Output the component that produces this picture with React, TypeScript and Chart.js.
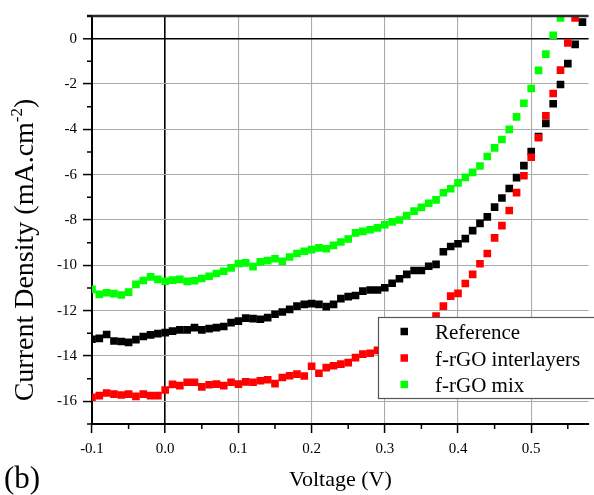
import React, { useEffect, useRef } from 'react';
import { Chart, registerables } from 'chart.js';

Chart.register(...registerables);

// ---- data ----
const voltage = [
  -0.10, -0.09, -0.08, -0.07, -0.06, -0.05, -0.04, -0.03, -0.02, -0.01,
  0.00, 0.01, 0.02, 0.03, 0.04, 0.05, 0.06, 0.07, 0.08, 0.09,
  0.10, 0.11, 0.12, 0.13, 0.14, 0.15, 0.16, 0.17, 0.18, 0.19,
  0.20, 0.21, 0.22, 0.23, 0.24, 0.25, 0.26, 0.27, 0.28, 0.29,
  0.30, 0.31, 0.32, 0.33, 0.34, 0.35, 0.36, 0.37, 0.38, 0.39,
  0.40, 0.41, 0.42, 0.43, 0.44, 0.45, 0.46, 0.47, 0.48, 0.49,
  0.50, 0.51, 0.52, 0.53, 0.54, 0.55, 0.56, 0.57,
];

const referenceJ = [
  -13.26, -13.22, -13.05, -13.34, -13.36, -13.40, -13.28, -13.14, -13.07, -13.01,
  -12.97, -12.90, -12.85, -12.85, -12.75, -12.85, -12.79, -12.75, -12.70, -12.53,
  -12.46, -12.33, -12.35, -12.38, -12.31, -12.16, -12.06, -11.94, -11.80, -11.72,
  -11.69, -11.72, -11.82, -11.72, -11.47, -11.38, -11.33, -11.14, -11.09, -11.09,
  -10.99, -10.79, -10.59, -10.40, -10.23, -10.23, -10.04, -9.96, -9.40, -9.17,
  -9.05, -8.82, -8.47, -8.15, -7.86, -7.43, -7.03, -6.61, -6.13, -5.60,
  -4.98, -4.32, -3.74, -2.87, -2.02, -1.10, -0.25, 0.73,
];

const interlayerJ = [
  -15.82, -15.75, -15.63, -15.68, -15.72, -15.68, -15.78, -15.68, -15.75, -15.75,
  -15.50, -15.25, -15.31, -15.16, -15.16, -15.36, -15.27, -15.24, -15.31, -15.16,
  -15.24, -15.14, -15.16, -15.09, -15.05, -15.22, -14.95, -14.87, -14.80, -14.88,
  -14.45, -14.76, -14.51, -14.43, -14.36, -14.29, -14.07, -13.92, -13.88, -13.75,
  -13.62, -13.50, -13.36, -13.20, -13.02, -12.82, -12.56, -12.24, -11.80, -11.36,
  -11.24, -10.80, -10.40, -9.93, -9.48, -8.79, -8.25, -7.58, -6.79, -6.05,
  -5.23, -4.37, -3.40, -2.42, -1.39, -0.19, 0.92, null,
];

const mixJ = [
  -11.06, -11.28, -11.21, -11.25, -11.31, -11.18, -10.84, -10.67, -10.51, -10.62,
  -10.70, -10.65, -10.62, -10.71, -10.68, -10.58, -10.48, -10.36, -10.26, -10.11,
  -9.92, -9.89, -10.06, -9.85, -9.79, -9.71, -9.82, -9.63, -9.48, -9.38,
  -9.31, -9.23, -9.27, -9.12, -8.97, -8.84, -8.57, -8.50, -8.43, -8.35,
  -8.21, -8.08, -8.00, -7.80, -7.61, -7.44, -7.26, -7.11, -6.80, -6.62,
  -6.36, -6.12, -5.90, -5.62, -5.20, -4.82, -4.45, -4.00, -3.45, -2.85,
  -2.20, -1.40, -0.68, 0.15, 0.92, null, null, null,
];

const seriesNames = ['Reference', 'f-rGO interlayers', 'f-rGO mix'];
const seriesColors = ['#000000', '#ff0000', '#00ff00'];

const xMajorTicks = [-0.1, 0.0, 0.1, 0.2, 0.3, 0.4, 0.5];
const xMinorTicks = [-0.05, 0.05, 0.15, 0.25, 0.35, 0.45, 0.55];
const yMajorTicks = [0, -2, -4, -6, -8, -10, -12, -14, -16];
const yMinorTicks = [1, -1, -3, -5, -7, -9, -11, -13, -15, -17];

const xTitle = 'Voltage (V)';
const yTitleMain = 'Current Density (mA.cm';
const yTitleSup = '-2';
const yTitleEnd = ')';
const panelLabel = '(b)';

const SERIF = '"Liberation Serif", "Times New Roman", serif';

const decorPlugin = {
  id: 'decor',
  afterDraw(chart: any) {
    const ctx = chart.ctx as CanvasRenderingContext2D;
    const ca = chart.chartArea;
    const xs = chart.scales.x;
    const ys = chart.scales.y;
    ctx.save();

    // top frame line
    ctx.strokeStyle = '#2a2a2a';
    ctx.lineWidth = 2.5;
    ctx.beginPath();
    ctx.moveTo(ca.left - 5, ca.top);
    ctx.lineTo(ca.right, ca.top);
    ctx.stroke();

    // minor ticks
    ctx.strokeStyle = '#000';
    ctx.lineWidth = 1.5;
    ctx.beginPath();
    xMinorTicks.forEach((v) => {
      const px = xs.getPixelForValue(v);
      ctx.moveTo(px, ca.bottom);
      ctx.lineTo(px, ca.bottom + 5);
    });
    yMinorTicks.forEach((v) => {
      const py = ys.getPixelForValue(v);
      ctx.moveTo(ca.left, py);
      ctx.lineTo(ca.left - 5, py);
    });
    ctx.stroke();

    // legend box
    const lx = ca.left + 286;
    const ly = ca.top + 301;
    const lw = chart.width - lx + 10;
    const lh = 81;
    ctx.fillStyle = '#ffffff';
    ctx.fillRect(lx, ly, lw, lh);
    ctx.strokeStyle = '#555555';
    ctx.lineWidth = 1.2;
    ctx.strokeRect(lx + 0.5, ly + 0.5, lw, lh);
    ctx.font = `21px ${SERIF}`;
    ctx.textAlign = 'left';
    ctx.textBaseline = 'alphabetic';
    seriesNames.forEach((name, i) => {
      const cy = ly + 14.5 + i * 26.5;
      ctx.fillStyle = seriesColors[i];
      ctx.fillRect(lx + 22.5, cy - 3.75, 7.5, 7.5);
      ctx.fillStyle = '#000';
      ctx.fillText(name, lx + 57, cy + 7.5);
    });

    // x title
    ctx.fillStyle = '#000';
    ctx.font = `22px ${SERIF}`;
    ctx.textAlign = 'center';
    ctx.fillText(xTitle, (ca.left + ca.right) / 2, 486);

    // panel label
    ctx.font = `31px ${SERIF}`;
    ctx.textAlign = 'left';
    ctx.fillText(panelLabel, 4, 488);

    // y title (rotated)
    ctx.translate(33, 250);
    ctx.rotate(-Math.PI / 2);
    ctx.textAlign = 'left';
    ctx.font = `28px ${SERIF}`;
    const w1 = ctx.measureText(yTitleMain).width;
    const w3 = ctx.measureText(yTitleEnd).width;
    ctx.font = `17px ${SERIF}`;
    const w2 = ctx.measureText(yTitleSup).width;
    let x = -(w1 + w2 + w3) / 2;
    ctx.font = `28px ${SERIF}`;
    ctx.fillText(yTitleMain, x, 0);
    x += w1;
    ctx.font = `17px ${SERIF}`;
    ctx.fillText(yTitleSup, x, -11);
    x += w2;
    ctx.font = `28px ${SERIF}`;
    ctx.fillText(yTitleEnd, x, 0);

    ctx.restore();
  },
};

export default function App() {
  const canvasRef = useRef<HTMLCanvasElement>(null);

  useEffect(() => {
    const canvas = canvasRef.current;
    if (!canvas) return;
    const toPoints = (ys: (number | null)[]) =>
      voltage.map((v, i) => ({ x: v, y: ys[i] }));
    const series = [referenceJ, interlayerJ, mixJ];

    const chart = new Chart(canvas, {
      type: 'scatter',
      data: {
        datasets: series.map((ys, i) => ({
          label: seriesNames[i],
          data: toPoints(ys),
          backgroundColor: seriesColors[i],
          borderColor: seriesColors[i],
          borderWidth: 0,
          pointStyle: 'rect',
          pointRadius: 5.4,
          pointHoverRadius: 5.4,
          showLine: false,
          clip: 0,
          order: 3 - i,
        })),
      } as any,
      options: {
        responsive: false,
        animation: false,
        events: [],
        layout: { padding: { top: 16, right: 0, left: 0, bottom: 0 } },
        plugins: {
          legend: { display: false },
          tooltip: { enabled: false },
          title: { display: false },
        },
        scales: {
          x: {
            type: 'linear',
            min: -0.1,
            max: 0.5784,
            afterBuildTicks: (s: any) => {
              s.ticks = xMajorTicks.map((v) => ({ value: v }));
            },
            afterFit: (s: any) => {
              s.height = 71;
            },
            ticks: {
              autoSkip: false,
              maxRotation: 0,
              padding: 7,
              color: '#000',
              font: { family: SERIF, size: 15 },
              callback: (v: any) => Number(v).toFixed(1),
            },
            grid: {
              color: (c: any) => (c.tick && Math.abs(c.tick.value) < 1e-9 ? '#000' : '#aaaaaa'),
              lineWidth: (c: any) => (c.tick && Math.abs(c.tick.value) < 1e-9 ? 1.6 : 1.1),
              tickColor: '#000',
              tickWidth: 1.5,
              tickLength: 9,
            },
            border: { color: '#000', width: 2 },
          },
          y: {
            type: 'linear',
            min: -17,
            max: 1,
            afterBuildTicks: (s: any) => {
              s.ticks = yMajorTicks.map((v) => ({ value: v }));
            },
            afterFit: (s: any) => {
              s.width = 92;
            },
            ticks: {
              autoSkip: false,
              padding: 6,
              color: '#000',
              font: { family: SERIF, size: 15 },
              callback: (v: any) => String(v),
            },
            grid: {
              color: (c: any) => (c.tick && c.tick.value === 0 ? '#000' : '#aaaaaa'),
              lineWidth: (c: any) => (c.tick && c.tick.value === 0 ? 1.6 : 1.1),
              tickColor: '#000',
              tickWidth: 1.5,
              tickLength: 9,
            },
            border: { color: '#000', width: 2 },
          },
        },
      } as any,
      plugins: [decorPlugin],
    });
    return () => chart.destroy();
  }, []);

  return (
    <div style={{ position: 'fixed', left: 0, top: 0, width: 594, height: 495, background: '#fff' }}>
      <canvas ref={canvasRef} width={594} height={495} style={{ display: 'block' }} />
    </div>
  );
}
